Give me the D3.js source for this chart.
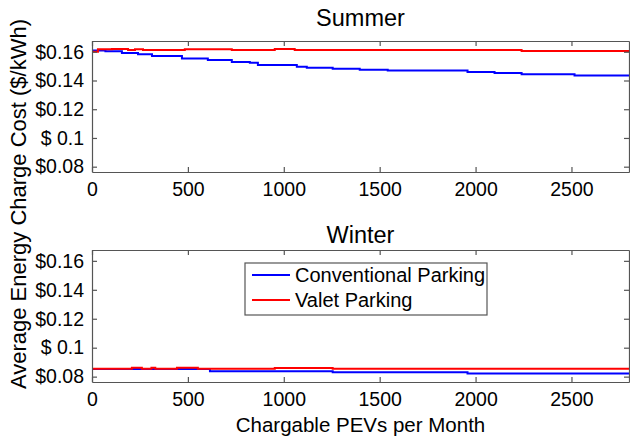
<!DOCTYPE html>
<html><head><meta charset="utf-8">
<script src="https://cdn.jsdelivr.net/npm/d3@7"></script>
<style>
html,body{margin:0;padding:0;background:#fff;}
text{font-family:"Liberation Sans",Arial,sans-serif;fill:#000;}
</style></head>
<body>
<svg id="c" width="630" height="443"></svg>
<script>
// ---- data ----
const seriesNames = ["Conventional Parking", "Valet Parking"];
const seriesColors = ["#0000ff", "#ff0000"];
const panelTitles = ["Summer", "Winter"];
const xTicks = [0, 500, 1000, 1500, 2000, 2500];
const yTicks = [0.08, 0.10, 0.12, 0.14, 0.16];
const yTickLabels = ["$0.08", "$ 0.1", "$0.12", "$0.14", "$0.16"];

const summerConvX = [0, 70, 156, 240, 313, 469, 604, 729, 823, 865, 1068, 1120, 1255, 1396, 1542, 1958, 2099, 2240, 2516, 2800];
const summerConvY = [0.1608, 0.1604, 0.1591, 0.1582, 0.1570, 0.1554, 0.1543, 0.1529, 0.1524, 0.1508, 0.1496, 0.1488, 0.1481, 0.1474, 0.1469, 0.1460, 0.1453, 0.1444, 0.1434, 0.1434];
const summerValetX = [0, 31, 104, 188, 224, 266, 484, 729, 953, 1057, 2240, 2800];
const summerValetY = [0.1600, 0.1617, 0.1620, 0.1612, 0.1617, 0.1612, 0.1617, 0.1612, 0.1620, 0.1612, 0.1605, 0.1605];

const winterConvX = [0, 615, 1255, 1958, 2800];
const winterConvY = [0.0852, 0.0838, 0.0831, 0.0821, 0.0821];
const winterValetX = [0, 208, 260, 310, 330, 443, 552, 953, 1255, 2800];
const winterValetY = [0.0855, 0.0861, 0.0855, 0.0861, 0.0855, 0.0861, 0.0855, 0.0860, 0.0855, 0.0855];

const panels = [
  {title: panelTitles[0], series: [[summerConvX, summerConvY], [summerValetX, summerValetY]]},
  {title: panelTitles[1], series: [[winterConvX, winterConvY], [winterValetX, winterValetY]]}
];

// ---- layout ----
const svg = d3.select("#c");
const left = 92, right = 629;
const panelBoxes = [{top: 41, bottom: 172, titleY: 26}, {top: 250, bottom: 382, titleY: 243}];
const x = d3.scaleLinear().domain([0, 2800]).range([left, right]);
const axisColor = "#555";

panels.forEach((p, i) => {
  const box = panelBoxes[i];
  const y = d3.scaleLinear().domain([0.0763, 0.1675]).range([box.bottom, box.top]);
  const g = svg.append("g");

  const clipId = "clip" + i;
  svg.append("clipPath").attr("id", clipId).append("rect")
    .attr("x", left).attr("y", box.top).attr("width", right - left).attr("height", box.bottom - box.top);

  const line = d3.line().x(d => x(d[0])).y(d => y(d[1])).curve(d3.curveStepAfter);
  p.series.forEach((s, k) => {
    const pts = s[0].map((xv, j) => [xv, s[1][j]]);
    g.append("path").datum(pts)
      .attr("d", line).attr("fill", "none")
      .attr("stroke", seriesColors[k]).attr("stroke-width", 2)
      .attr("clip-path", "url(#" + clipId + ")");
  });

  const bottomAxis = d3.axisBottom(x).tickValues(xTicks).tickSizeInner(-5).tickSizeOuter(0).tickPadding(10).tickFormat(d3.format("d"));
  const topAxis = d3.axisTop(x).tickValues(xTicks).tickSizeInner(-5).tickSizeOuter(0).tickFormat("");
  const leftAxis = d3.axisLeft(y).tickValues(yTicks).tickSizeInner(-5).tickSizeOuter(0).tickPadding(8).tickFormat((d, j) => yTickLabels[j]);
  const rightAxis = d3.axisRight(y).tickValues(yTicks).tickSizeInner(-5).tickSizeOuter(0).tickFormat("");

  const ax = [
    g.append("g").attr("transform", `translate(0,${box.bottom})`).call(bottomAxis),
    g.append("g").attr("transform", `translate(0,${box.top})`).call(topAxis),
    g.append("g").attr("transform", `translate(${left},0)`).call(leftAxis),
    g.append("g").attr("transform", `translate(${right},0)`).call(rightAxis)
  ];
  ax.forEach(a => {
    a.select(".domain").attr("stroke", axisColor).attr("stroke-width", 1.2);
    a.selectAll(".tick line").attr("stroke", axisColor).attr("stroke-width", 1.2);
    a.selectAll(".tick text").attr("font-size", 19.5).attr("font-family", "Liberation Sans, Arial, sans-serif").attr("fill", "#000");
  });

  svg.append("text").attr("x", (left + right) / 2).attr("y", box.titleY)
    .attr("text-anchor", "middle").attr("font-size", 23.5).text(p.title);
});

// legend
const lg = svg.append("g").attr("transform", "translate(245,263)");
lg.append("rect").attr("width", 242).attr("height", 52).attr("fill", "#fff").attr("stroke", axisColor).attr("stroke-width", 1.2);
seriesNames.forEach((n, k) => {
  const yy = 12 + k * 25;
  lg.append("line").attr("x1", 7).attr("x2", 45).attr("y1", yy).attr("y2", yy)
    .attr("stroke", seriesColors[k]).attr("stroke-width", 2);
  lg.append("text").attr("x", 50).attr("y", yy + 7).attr("font-size", 20).text(n);
});

// axis labels
svg.append("text").attr("x", (left + right) / 2).attr("y", 432).attr("text-anchor", "middle")
  .attr("font-size", 20.5).text("Chargable PEVs per Month");
svg.append("text").attr("transform", "translate(26,204) rotate(-90)").attr("text-anchor", "middle")
  .attr("font-size", 22).text("Average Energy Charge Cost ($/kWh)");
</script>
</body></html>
